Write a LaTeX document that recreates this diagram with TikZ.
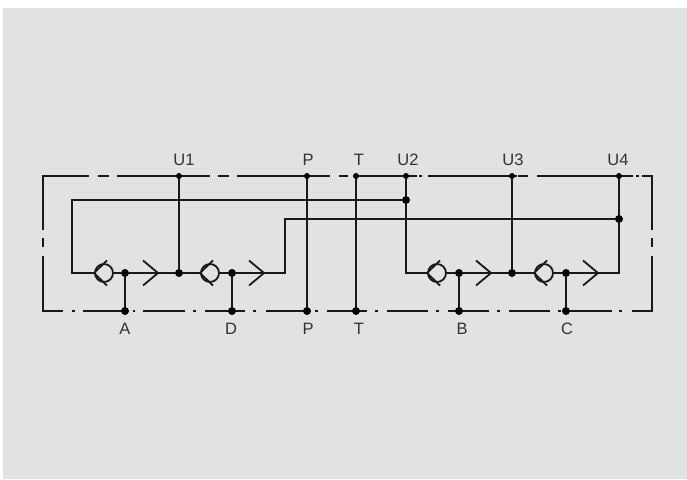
\documentclass[tikz,border=0pt]{standalone}
\usepackage{fontspec}
\setmainfont{Liberation Sans}
\definecolor{panel_gray}{HTML}{E1E2E4}
\definecolor{label_gray}{HTML}{333333}
\begin{document}
\begin{tikzpicture}[x=1pt,y=-1pt,
	line_path/.style={line width=1.8pt,black!90},
	big_node/.style={circle,fill=black,minimum size=8pt,inner sep=0pt},
	small_node/.style={circle,fill=black,minimum size=6pt,inner sep=0pt},
	check_node/.style={circle,draw,line width=1.8pt,black!90,minimum size=18pt,inner sep=0pt},
	port_label/.style={text=label_gray,font=\fontsize{16.5}{20}\selectfont,inner sep=0pt}]

	\useasboundingbox (0,0) rectangle (687,479);
	\fill[panel_gray] (3,8) rectangle (687,479);

	% frame
	\draw[line_path] (43,230) -- (43,176) -- (89,176) (98,176) -- (109,176) (117,176) -- (210,176)
		(218,176) -- (229,176) (237,176) -- (330,176) (339,176) -- (348,176) (353,176) -- (417,176)
		(419,176) -- (422,176) (428,176) -- (517,176) (518,176) -- (528,176) (537,176) -- (633,176)
		(636,176) -- (639,176) (642,176) -- (652,176) -- (652,230) (652,238) -- (652,247) (652,256) -- (652,311)
		-- (632,311) (622,311) -- (619,311) (612,311) -- (566,311) (561,311) -- (558,311) (550,311) -- (509,311)
		(500,311) -- (497,311) (489,311) -- (448,311) (439,311) -- (436,311) (428,311) -- (387,311)
		(378,311) -- (375,311) (367,311) -- (327,311) (318,311) -- (315,311) (310,311) -- (266,311)
		(256,311) -- (253,311) (245,311) -- (205,311) (196,311) -- (193,311) (185,311) -- (143,311)
		(135,311) -- (133,311) (125,311) -- (83,311) (75,311) -- (72,311) (63,311) -- (43,311) -- (43,256)
		(43,247) -- (43,238);

	\node[small_node] (u1) at (179,176) {};
	\node[small_node] (p_top) at (307,176) {};
	\node[small_node] (t_top) at (356,176) {};
	\node[small_node] (u2) at (406,176) {};
	\node[small_node] (u3) at (512,176) {};
	\node[small_node] (u4) at (619,176) {};

	\node[big_node] (a) at (125,311) {};
	\node[big_node] (d) at (232,311) {};
	\node[big_node] (p_bot) at (307,311) {};
	\node[big_node] (t_bot) at (356,311) {};
	\node[big_node] (b) at (459,311) {};
	\node[big_node] (c) at (566,311) {};

	\node[big_node] (u2_joint) at (406,200) {};
	\node[big_node] (u4_joint) at (619,219) {};
	\node[big_node] (u1_joint) at (179,273) {};
	\node[big_node] (u3_joint) at (512,273) {};

	\node[big_node] (a_joint) at (125,273) {};
	\node[big_node] (d_joint) at (232,273) {};
	\node[big_node] (b_joint) at (459,273) {};
	\node[big_node] (c_joint) at (566,273) {};

	\node[check_node] (v1) at (104,273) {};
	\node[check_node] (v2) at (210,273) {};
	\node[check_node] (v3) at (437,273) {};
	\node[check_node] (v4) at (544,273) {};

	\coordinate (corner1) at (72,200);
	\coordinate (corner2) at (72,273);
	\coordinate (corner3) at (285,273);
	\coordinate (corner4) at (285,219);
	\coordinate (corner5) at (406,273);
	\coordinate (corner6) at (619,273);

	% wires
	\draw[line_path] (u1) -- (u1_joint);
	\draw[line_path] (p_top) -- (p_bot);
	\draw[line_path] (t_top) -- (t_bot);
	\draw[line_path] (u3) -- (u3_joint);
	\draw[line_path] (u2) -- (u2_joint) -- (corner5) -- (v3);
	\draw[line_path] (u2_joint) -- (corner1) -- (corner2) -- (v1);
	\draw[line_path] (u4) -- (u4_joint) -- (corner6) -- (c_joint);
	\draw[line_path] (u4_joint) -- (corner4) -- (corner3) -- (d_joint);
	\draw[line_path] (v1) -- (a_joint);
	\draw[line_path] (a_joint) -- (u1_joint);
	\draw[line_path] (u1_joint) -- (v2);
	\draw[line_path] (v2) -- (d_joint);
	\draw[line_path] (v3) -- (b_joint);
	\draw[line_path] (b_joint) -- (u3_joint);
	\draw[line_path] (u3_joint) -- (v4);
	\draw[line_path] (v4) -- (c_joint);
	\draw[line_path] (a_joint) -- (a);
	\draw[line_path] (d_joint) -- (d);
	\draw[line_path] (b_joint) -- (b);
	\draw[line_path] (c_joint) -- (c);

	% chevrons
	\foreach \cx in {104,210,437,544} {
		\draw[line_path] (\cx+3,260.5) -- (\cx-10,273) -- (\cx+3,285.5);
		\draw[line_path] (\cx+39,260.5) -- (\cx+54,273) -- (\cx+39,285.5);
	}

	\node[port_label] (u1_label) at (184,160) {U1};
	\node[port_label] (p_label) at (308,160) {P};
	\node[port_label] (t_label) at (359,160) {T};
	\node[port_label] (u2_label) at (408,160) {U2};
	\node[port_label] (u3_label) at (513,160) {U3};
	\node[port_label] (u4_label) at (618,160) {U4};
	\node[port_label] (a_label) at (125,329) {A};
	\node[port_label] (d_label) at (231,329) {D};
	\node[port_label] (p2_label) at (308,329) {P};
	\node[port_label] (t2_label) at (359,329) {T};
	\node[port_label] (b_label) at (462,329) {B};
	\node[port_label] (c_label) at (567,329) {C};
\end{tikzpicture}
\end{document}
